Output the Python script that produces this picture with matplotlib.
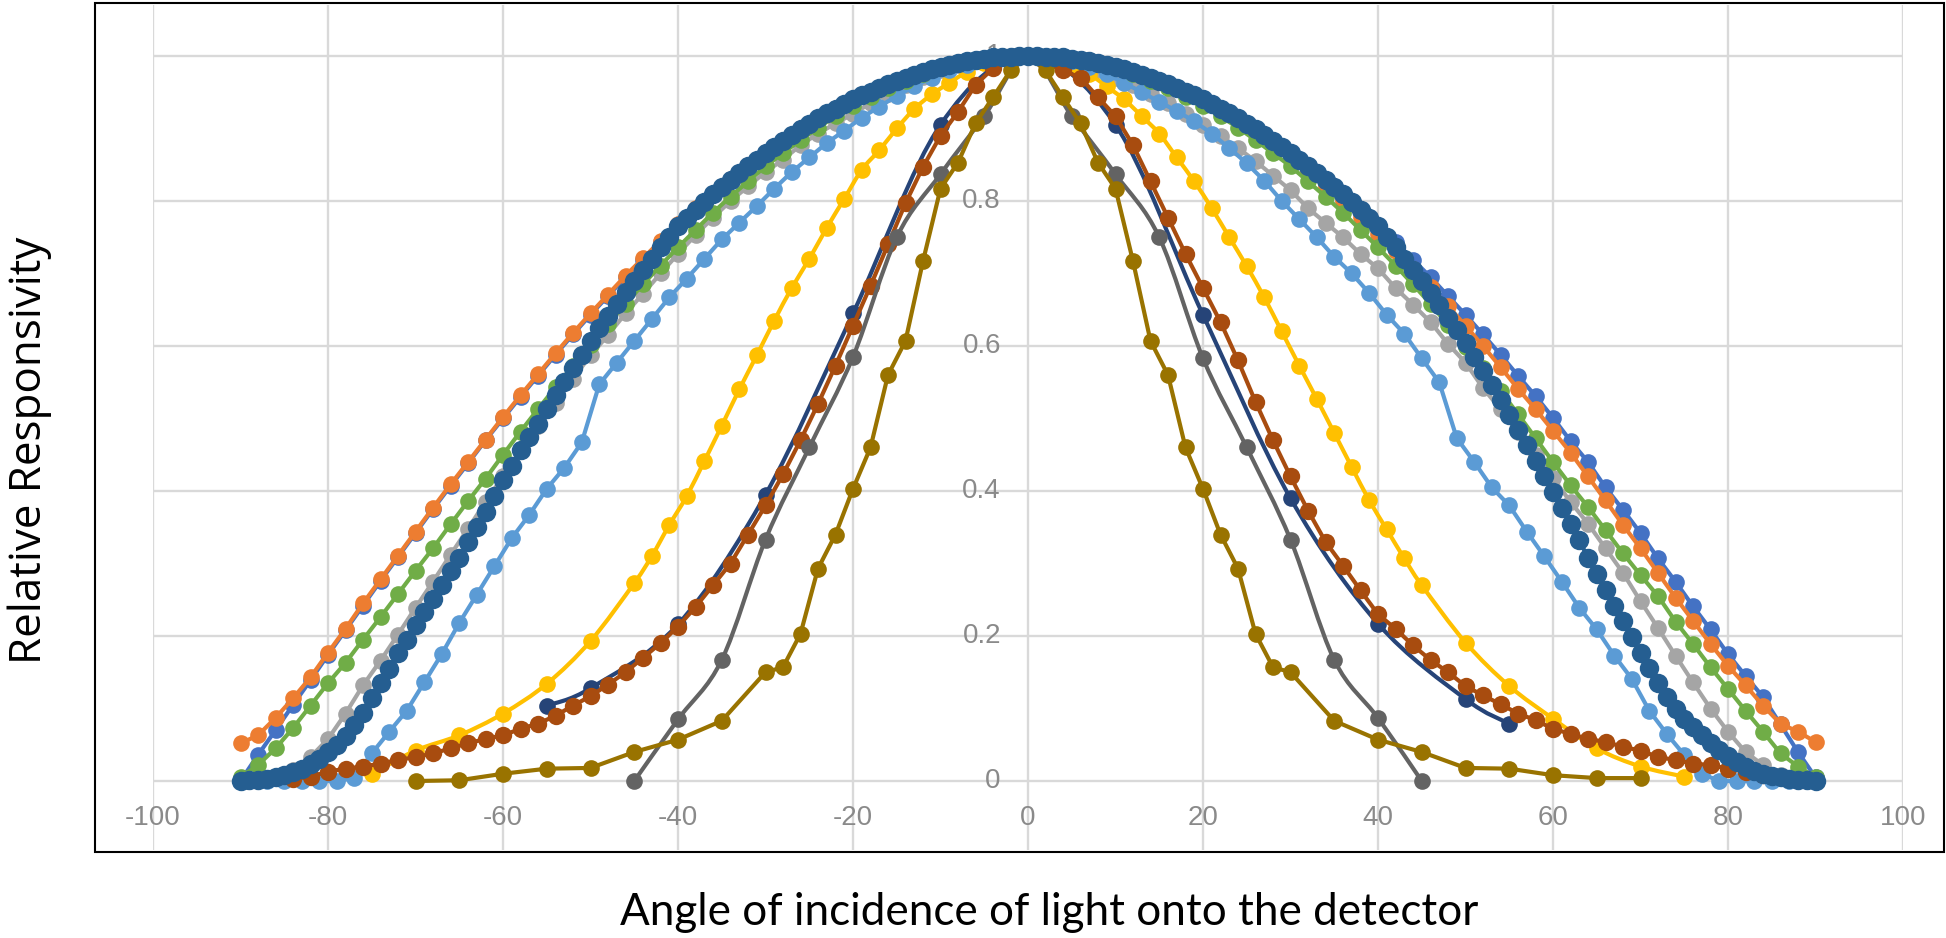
import numpy as np
import matplotlib
matplotlib.use("Agg")
import matplotlib.pyplot as plt
from matplotlib.path import Path
from matplotlib.patches import PathPatch, Rectangle

# ---------------- data ----------------
ANG2 = np.arange(-90, 91, 2)          # 2-degree series
ANG1 = np.arange(-90, 91, 1)          # 1-degree series
ANG_LB = np.arange(-89, 90, 2)        # odd-degree series

blue = [0.000, 0.036, 0.070, 0.105, 0.139, 0.174, 0.208, 0.242, 0.276, 0.309,
        0.342, 0.375, 0.407, 0.438, 0.470, 0.500, 0.530, 0.559, 0.588, 0.616,
        0.643, 0.669, 0.695, 0.719, 0.743, 0.766, 0.788, 0.809, 0.829, 0.848,
        0.866, 0.883, 0.899, 0.914, 0.927, 0.940, 0.951, 0.961, 0.970, 0.978,
        0.985, 0.990, 0.995, 0.998, 0.999, 1.000,
        0.999, 0.998, 0.995, 0.990, 0.985, 0.978, 0.970, 0.961, 0.951, 0.940,
        0.927, 0.914, 0.899, 0.883, 0.866, 0.848, 0.829, 0.809, 0.788, 0.766,
        0.743, 0.719, 0.695, 0.669, 0.643, 0.616, 0.588, 0.559, 0.531, 0.501,
        0.469, 0.440, 0.405, 0.374, 0.342, 0.307, 0.275, 0.241, 0.209, 0.175,
        0.145, 0.116, 0.078, 0.040, 0.005]

orange = [0.052, 0.063, 0.087, 0.114, 0.143, 0.177, 0.210, 0.245, 0.278, 0.311,
          0.344, 0.377, 0.409, 0.440, 0.471, 0.502, 0.532, 0.561, 0.590, 0.618,
          0.645, 0.671, 0.697, 0.721, 0.745, 0.768, 0.790, 0.810, 0.830, 0.849,
          0.867, 0.884, 0.900, 0.914, 0.928, 0.940, 0.951, 0.961, 0.970, 0.978,
          0.985, 0.990, 0.995, 0.998, 0.999, 1.000,
          0.999, 0.998, 0.995, 0.990, 0.984, 0.977, 0.969, 0.959, 0.949, 0.937,
          0.924, 0.910, 0.895, 0.878, 0.860, 0.841, 0.821, 0.800, 0.778, 0.755,
          0.731, 0.706, 0.681, 0.655, 0.628, 0.600, 0.571, 0.541, 0.513, 0.483,
          0.453, 0.420, 0.387, 0.353, 0.321, 0.287, 0.253, 0.221, 0.189, 0.159,
          0.132, 0.104, 0.079, 0.068, 0.054]

gray = [0.000, 0.001, 0.005, 0.015, 0.033, 0.058, 0.093, 0.132, 0.166, 0.202,
        0.239, 0.275, 0.312, 0.348, 0.385, 0.420, 0.455, 0.490, 0.522, 0.555,
        0.587, 0.615, 0.645, 0.672, 0.700, 0.727, 0.753, 0.777, 0.800, 0.820,
        0.840, 0.857, 0.877, 0.893, 0.907, 0.920, 0.935, 0.948, 0.960, 0.971,
        0.980, 0.987, 0.993, 0.997, 0.999, 1.000,
        0.999, 0.995, 0.988, 0.980, 0.970, 0.960, 0.948, 0.935, 0.920, 0.905,
        0.890, 0.873, 0.855, 0.835, 0.815, 0.790, 0.770, 0.750, 0.727, 0.707,
        0.680, 0.657, 0.633, 0.603, 0.577, 0.542, 0.513, 0.482, 0.450, 0.418,
        0.385, 0.355, 0.321, 0.287, 0.248, 0.211, 0.173, 0.136, 0.100, 0.068,
        0.040, 0.022, 0.008, 0.002, 0.000]

yellow_x = np.concatenate([np.arange(-75, -49, 5), np.arange(-45, 46, 2), np.arange(50, 76, 5)])
yellow = [0.010, 0.042, 0.063, 0.093, 0.134, 0.193,
          0.273, 0.310, 0.353, 0.393, 0.441, 0.490, 0.540, 0.587, 0.635, 0.680,
          0.720, 0.763, 0.803, 0.843, 0.870, 0.900, 0.927, 0.947, 0.963, 0.978,
          0.990, 0.997, 1.000,
          1.000, 0.996, 0.988, 0.975, 0.958, 0.940, 0.917, 0.893, 0.860, 0.827,
          0.790, 0.750, 0.710, 0.667, 0.620, 0.573, 0.527, 0.480, 0.433, 0.387,
          0.347, 0.307, 0.270,
          0.191, 0.131, 0.086, 0.045, 0.020, 0.006]

lightblue = [0.000, 0.000, 0.000, 0.000, 0.000, 0.000, 0.004, 0.038, 0.068, 0.097,
             0.136, 0.175, 0.218, 0.257, 0.296, 0.335, 0.367, 0.403, 0.432, 0.467,
             0.547, 0.577, 0.607, 0.637, 0.667, 0.693, 0.720, 0.747, 0.770, 0.793,
             0.817, 0.840, 0.860, 0.880, 0.897, 0.915, 0.930, 0.945, 0.958, 0.970,
             0.980, 0.988, 0.994, 0.998, 1.000,
             1.000, 0.998, 0.993, 0.985, 0.975, 0.963, 0.950, 0.937, 0.924, 0.910,
             0.893, 0.873, 0.852, 0.828, 0.800, 0.775, 0.750, 0.723, 0.700, 0.673,
             0.643, 0.617, 0.583, 0.550, 0.473, 0.440, 0.405, 0.380, 0.344, 0.310,
             0.275, 0.239, 0.209, 0.173, 0.141, 0.097, 0.065, 0.036, 0.010, 0.000,
             0.000, 0.000, 0.000, 0.000, 0.000]

green = [0.005, 0.022, 0.045, 0.073, 0.104, 0.135, 0.163, 0.195, 0.226, 0.258,
         0.290, 0.321, 0.354, 0.386, 0.417, 0.450, 0.482, 0.513, 0.543, 0.573,
         0.602, 0.630, 0.658, 0.685, 0.711, 0.736, 0.760, 0.784, 0.806, 0.827,
         0.848, 0.866, 0.884, 0.901, 0.917, 0.931, 0.944, 0.956, 0.966, 0.975,
         0.983, 0.989, 0.994, 0.997, 0.999, 1.000,
         0.999, 0.997, 0.994, 0.989, 0.983, 0.975, 0.966, 0.956, 0.944, 0.931,
         0.917, 0.901, 0.884, 0.866, 0.848, 0.827, 0.806, 0.784, 0.760, 0.736,
         0.711, 0.685, 0.658, 0.629, 0.599, 0.569, 0.538, 0.506, 0.473, 0.440,
         0.408, 0.378, 0.346, 0.314, 0.284, 0.255, 0.220, 0.189, 0.157, 0.127,
         0.097, 0.068, 0.038, 0.020, 0.005]

navy_x = [-55, -50, -40, -30, -20, -10, 0, 10, 20, 30, 40, 50, 55]
navy = [0.104, 0.128, 0.216, 0.395, 0.645, 0.905, 1.000, 0.905, 0.643, 0.390, 0.217, 0.113, 0.079]

brown_x = np.arange(-84, 85, 2)
brown = [0.003, 0.006, 0.013, 0.017, 0.020, 0.024, 0.029, 0.033, 0.038, 0.045,
         0.052, 0.058, 0.063, 0.072, 0.079, 0.090, 0.104, 0.117, 0.133, 0.150,
         0.170, 0.190, 0.213, 0.240, 0.270, 0.300, 0.340, 0.380, 0.423, 0.470,
         0.520, 0.573, 0.628, 0.683, 0.740, 0.797, 0.847, 0.890, 0.923, 0.960,
         0.983, 0.996, 1.000,
         0.990, 0.980, 0.970, 0.943, 0.917, 0.877, 0.827, 0.777, 0.727, 0.680,
         0.633, 0.580, 0.523, 0.470, 0.420, 0.373, 0.330, 0.297, 0.263, 0.230,
         0.210, 0.187, 0.167, 0.150, 0.131, 0.118, 0.106, 0.093, 0.084, 0.072,
         0.065, 0.058, 0.054, 0.047, 0.042, 0.033, 0.029, 0.024, 0.022, 0.017,
         0.013, 0.008]

dgray_x = np.arange(-45, 46, 5)
dgray = [0.000, 0.085, 0.167, 0.333, 0.460, 0.585, 0.750, 0.837, 0.917, 1.000,
         0.917, 0.837, 0.750, 0.583, 0.460, 0.333, 0.167, 0.087, 0.000]

olive_x = np.concatenate([np.arange(-70, -34, 5), np.arange(-30, 31, 2), np.arange(35, 71, 5)])
olive = [0.000, 0.001, 0.010, 0.017, 0.018, 0.040, 0.057, 0.083,
         0.150, 0.157, 0.203, 0.293, 0.340, 0.403, 0.460, 0.560, 0.607, 0.717,
         0.817, 0.853, 0.907, 0.943, 0.980, 1.000,
         0.980, 0.943, 0.907, 0.853, 0.817, 0.717, 0.607, 0.560, 0.460, 0.403,
         0.340, 0.293, 0.203, 0.157, 0.150,
         0.083, 0.057, 0.040, 0.018, 0.017, 0.008, 0.004, 0.004]

darkblue = [0.000, 0.001, 0.002, 0.003, 0.005, 0.008, 0.012, 0.017, 0.023, 0.031,
            0.040, 0.050, 0.062, 0.077, 0.094, 0.114, 0.135, 0.155, 0.176, 0.195,
            0.215, 0.233, 0.251, 0.270, 0.289, 0.308, 0.329, 0.350, 0.371, 0.393,
            0.415, 0.435, 0.456, 0.474, 0.492, 0.513, 0.532, 0.551, 0.570, 0.588,
            0.607, 0.625, 0.641, 0.658, 0.674, 0.689, 0.705, 0.720, 0.736, 0.751,
            0.766, 0.777, 0.788, 0.799, 0.809, 0.819, 0.829, 0.839, 0.848, 0.857,
            0.866, 0.875, 0.883, 0.891, 0.899, 0.906, 0.914, 0.921, 0.927, 0.934,
            0.940, 0.946, 0.951, 0.956, 0.961, 0.966, 0.970, 0.974, 0.978, 0.982,
            0.985, 0.988, 0.990, 0.993, 0.995, 0.996, 0.998, 0.999, 0.999, 1.000,
            1.000,
            1.000, 0.999, 0.999, 0.998, 0.996, 0.995, 0.993, 0.990, 0.988, 0.985,
            0.982, 0.978, 0.974, 0.970, 0.966, 0.961, 0.956, 0.951, 0.946, 0.940,
            0.934, 0.927, 0.921, 0.914, 0.906, 0.899, 0.891, 0.883, 0.875, 0.866,
            0.857, 0.848, 0.839, 0.829, 0.819, 0.809, 0.799, 0.788, 0.777, 0.766,
            0.751, 0.736, 0.720, 0.705, 0.689, 0.673, 0.656, 0.639, 0.622, 0.604,
            0.585, 0.566, 0.546, 0.526, 0.505, 0.484, 0.463, 0.442, 0.420, 0.398,
            0.376, 0.354, 0.332, 0.308, 0.285, 0.263, 0.242, 0.221, 0.198, 0.176,
            0.156, 0.135, 0.116, 0.100, 0.086, 0.074, 0.063, 0.052, 0.043, 0.034,
            0.026, 0.019, 0.014, 0.010, 0.007, 0.005, 0.003, 0.002, 0.001, 0.000]

XTICKS = [-100, -80, -60, -40, -20, 0, 20, 40, 60, 80, 100]
YTICKS = [0, 0.2, 0.4, 0.6, 0.8, 1.0]
YTICK_LABELS = ["0", "0.2", "0.4", "0.6", "0.8", "1"]
XLABEL = "Angle of incidence of light onto the detector"
YLABEL = "Relative Responsivity"

# ---------------- layout ----------------
W, H, DPI = 1946, 938, 100
fig = plt.figure(figsize=(W / DPI, H / DPI), dpi=DPI)
fig.patch.set_facecolor("white")

def fx(px):
    return px / W

def fy(py):
    return 1 - py / H

X0PX, XSC = 1028, 8.75       # pixel of x=0, px per unit
Y0PX, YSC = 781, 725         # pixel of y=0, px per unit
AX_TOP, AX_BOT = 5, 850
ax = fig.add_axes([fx(X0PX - 100 * XSC), fy(AX_BOT), 200 * XSC / W, (AX_BOT - AX_TOP) / H])
ax.set_xlim(-100, 100)
ax.set_ylim(-(AX_BOT - Y0PX) / YSC, 1 + (Y0PX - YSC - AX_TOP) / YSC)
ax.set_xticks(XTICKS)
ax.set_yticks(YTICKS)
ax.grid(True, color="#D9D9D9", lw=1.7, zorder=0)
ax.set_axisbelow(True)
ax.tick_params(length=0, labelbottom=False, labelleft=False)
for s in ax.spines.values():
    s.set_visible(False)
ax.patch.set_alpha(0)

tick_font = ["Liberation Sans Narrow", "Liberation Sans", "DejaVu Sans"]
for xv in XTICKS:
    ax.text(xv, -(818 - Y0PX) / YSC, str(xv), ha="center", va="center",
            fontsize=20, color="#8A8A8A", family=tick_font, zorder=1)
for yv, lab in zip(YTICKS, YTICK_LABELS):
    ax.text(-3.1, yv, lab, ha="right", va="center", fontsize=20,
            color="#8A8A8A", family=tick_font, zorder=1)

# ---------------- series ----------------
def bezier_path(x, y, t=1 / 6):
    P = np.column_stack([np.asarray(x, float), np.asarray(y, float)])
    n = len(P)
    verts = [P[0]]
    codes = [Path.MOVETO]
    for i in range(n - 1):
        p0 = P[i - 1] if i > 0 else P[i]
        p1, p2 = P[i], P[i + 1]
        p3 = P[i + 2] if i + 2 < n else P[i + 1]
        verts += [p1 + (p2 - p0) * t, p2 - (p3 - p1) * t, p2]
        codes += [Path.CURVE4] * 3
    return Path(np.array(verts), codes)

def draw(x, y, color, z, ms=12.0, lw=3.0, smooth=False):
    x = np.asarray(x, float)
    y = np.asarray(y, float)
    assert len(x) == len(y), (len(x), len(y))
    if smooth:
        ax.add_patch(PathPatch(bezier_path(x, y), fill=False, edgecolor=color,
                               lw=lw, zorder=z, joinstyle="round", capstyle="round"))
    else:
        ax.plot(x, y, color=color, lw=lw, zorder=z, solid_joinstyle="round")
    ax.plot(x, y, ls="none", marker="o", ms=ms, mfc=color, mec=color, mew=0, zorder=z + 0.005)

draw(ANG2, blue, "#4472C4", 2.00)
draw(ANG2, orange, "#ED7D31", 2.01)
draw(ANG2, gray, "#A5A5A5", 2.02)
draw(yellow_x, yellow, "#FFC000", 2.03, smooth=True)
draw(ANG_LB, lightblue, "#5B9BD5", 2.04)
draw(ANG2, green, "#70AD47", 2.05)
draw(navy_x, navy, "#264478", 2.06, lw=3.0, smooth=True)
draw(brown_x, brown, "#A84C0F", 2.07, ms=12.5)
draw(dgray_x, dgray, "#636363", 2.08, smooth=True)
draw(olive_x, olive, "#997300", 2.09)
draw(ANG1, darkblue, "#255E91", 2.10, ms=14)

# ---------------- labels ----------------
fig.canvas.draw()
renderer = fig.canvas.get_renderer()

def fit_text(x, y, s, family, target, rotation=0, size0=28):
    t = fig.text(fx(x), fy(y), s, ha="center", va="center", rotation=rotation,
                 fontsize=size0, family=family, color="black")
    bb = t.get_window_extent(renderer)
    cur = bb.height if rotation else bb.width
    t.set_fontsize(size0 * target / cur)
    return t

fit_text(1049, 912, XLABEL, ["Lato", "DejaVu Sans"], 858)
fit_text(30, 450, YLABEL, ["Open Sans", "DejaVu Sans"], 426, rotation=90)

fig.add_artist(Rectangle((fx(95), fy(852)), (1944 - 95) / W, (852 - 3) / H,
                         transform=fig.transFigure, fill=False, ec="black", lw=1.5))

fig.savefig("out.png", dpi=DPI, facecolor="white")
